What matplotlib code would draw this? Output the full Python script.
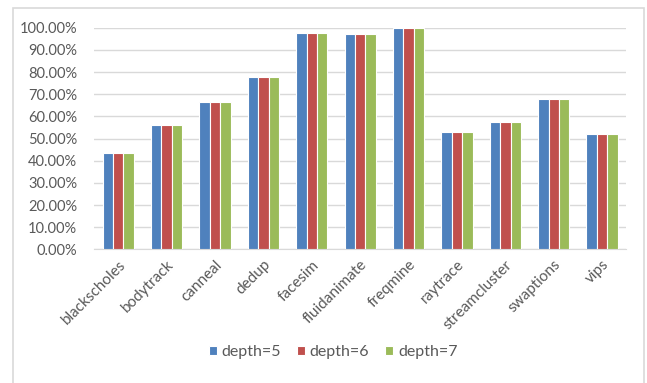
import numpy as np
import matplotlib.pyplot as plt
from matplotlib.patches import Rectangle
from matplotlib.ticker import PercentFormatter

plt.rcParams['font.family'] = ['Lato', 'DejaVu Sans']

benchmarks = ["blackscholes", "bodytrack", "canneal", "dedup", "facesim", "fluidanimate",
              "freqmine", "raytrace", "streamcluster", "swaptions", "vips"]
depth5 = [0.433, 0.561, 0.666, 0.776, 0.975, 0.970, 1.000, 0.531, 0.573, 0.677, 0.520]
depth6 = [0.433, 0.561, 0.666, 0.776, 0.975, 0.970, 1.000, 0.531, 0.573, 0.677, 0.520]
depth7 = [0.433, 0.561, 0.666, 0.776, 0.975, 0.970, 1.000, 0.531, 0.573, 0.677, 0.520]
series_labels = ["depth=5", "depth=6", "depth=7"]
colors = ["#4F81BD", "#C0504D", "#9BBB59"]
text_gray = "#595959"
grid_gray = "#d9d9d9"

fig = plt.figure(figsize=(6.47, 3.83), dpi=100)
ax = fig.add_axes([0.1453, 0.349, 0.8227, 0.5787])

x = np.arange(len(benchmarks))
w = 0.215
for i, vals in enumerate([depth5, depth6, depth7]):
    ax.bar(x + (i - 1) * w, vals, width=w, color=colors[i], edgecolor="white",
           linewidth=0.8, label=series_labels[i], zorder=3)

ax.set_xlim(-0.5, len(benchmarks) - 0.5)
ax.set_ylim(0, 1.0)
ax.set_yticks(np.arange(0, 1.01, 0.1))
ax.yaxis.set_major_formatter(PercentFormatter(1.0, decimals=2))
ax.grid(axis="y", color=grid_gray, linewidth=1, zorder=0)
for s in ["top", "right", "left"]:
    ax.spines[s].set_visible(False)
ax.spines["bottom"].set_color(grid_gray)
ax.tick_params(axis="both", length=0, colors=text_gray)
ax.tick_params(axis="y", pad=12, labelsize=10.5)
ax.set_xticks(x)
ax.set_xticklabels(benchmarks, rotation=45, ha="right", rotation_mode="anchor")
ax.tick_params(axis="x", pad=6, labelsize=11)

leg = fig.legend(loc="center", bbox_to_anchor=(0.515, 0.081), ncol=3, frameon=False,
                 fontsize=11.5, handlelength=0.5, handleheight=0.5, handletextpad=0.3,
                 columnspacing=1.0, labelcolor=text_gray)

# light frame around the chart area
fig.patches.append(Rectangle((13 / 647, -0.05), 631 / 647, 1 - 8 / 383 + 0.05,
                             transform=fig.transFigure, fill=False,
                             edgecolor="#d9d9d9", linewidth=1.2))

fig.savefig("out.png", dpi=100)
